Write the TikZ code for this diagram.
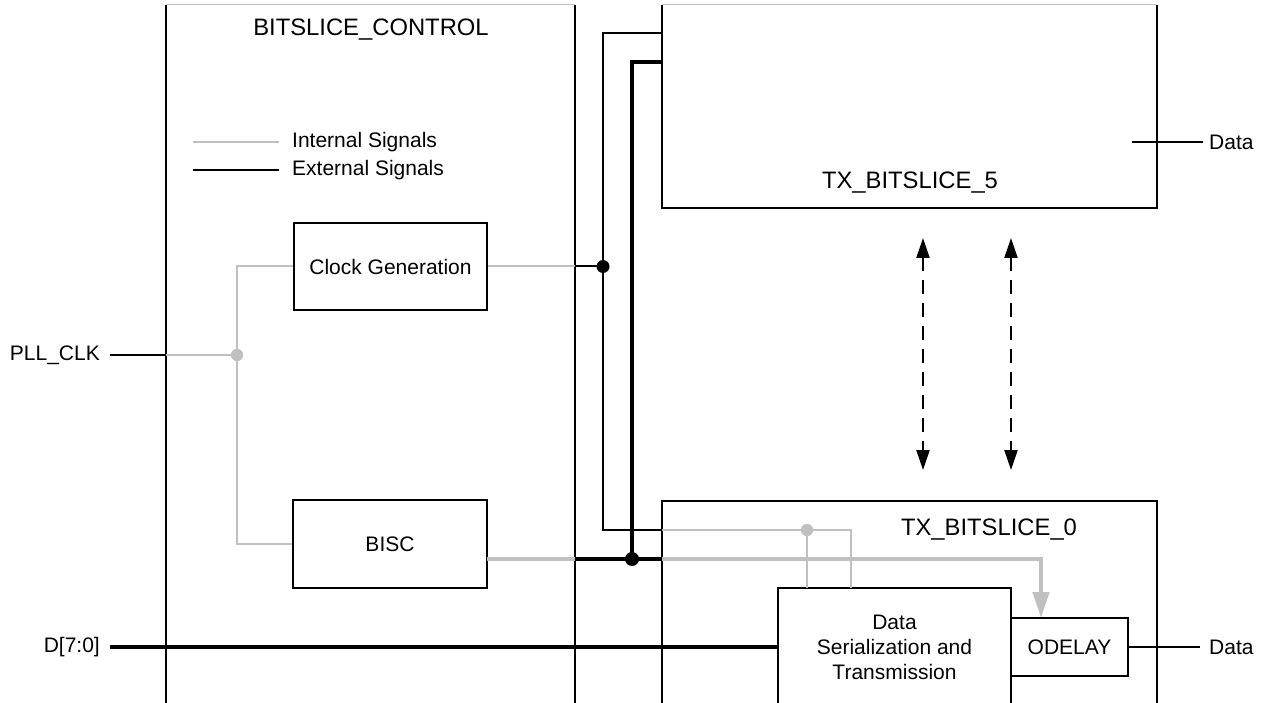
\documentclass[tikz,border=0pt]{standalone}
\usepackage{fontspec}
\setmainfont{Liberation Sans}
\usetikzlibrary{arrows.meta}
\definecolor{sgray}{RGB}{192,192,192}
\begin{document}
\begin{tikzpicture}[x=1pt,y=-1pt,
  lbl/.style={font=\fontsize{21}{25}\selectfont, inner sep=0pt},
  ttl/.style={font=\fontsize{23.8}{28}\selectfont, inner sep=0pt},
  box/.style={draw, line width=2.8pt, lbl, align=center},
  border/.style={draw=black, line width=2.8pt},
  topedge/.style={draw=sgray, line width=1pt},
  int/.style={draw=sgray, line width=2pt},
  intthick/.style={draw=sgray, line width=4.5pt},
  ext/.style={draw=black, line width=2pt},
  extthick/.style={draw=black, line width=4.5pt},
  dashline/.style={draw=black, line width=2.2pt, dash pattern=on 14pt off 9pt,
    {Triangle[length=20pt,width=13pt]}-{Triangle[length=20pt,width=13pt]}},
  gdot/.style={fill=sgray},
  bdot/.style={fill=black}]
\useasboundingbox (0,0) rectangle (1263,703);
\fill[white] (0,0) rectangle (1263,703);
\clip (0,0) rectangle (1263,703);

% big clipped boxes
\draw[topedge] (166,5) -- (575,5);
\draw[border] (166,5) -- (166,720);
\draw[border] (575,5) -- (575,720);
\node[ttl] (bctitle) at (371,30) {BITSLICE\_CONTROL};

\draw[topedge] (662,5) -- (1157,5);
\draw[border] (662,5) -- (662,208) -- (1157,208) -- (1157,5);
\node[ttl] (tx5title) at (910,183) {TX\_BITSLICE\_5};

\draw[border] (662,720) -- (662,501) -- (1157,501) -- (1157,720);
\node[ttl] (tx0title) at (989,530) {TX\_BITSLICE\_0};

% legend
\coordinate (lg1a) at (193,142); \coordinate (lg1b) at (279,142);
\coordinate (lg2a) at (193,170); \coordinate (lg2b) at (279,170);
\draw[int] (lg1a) -- (lg1b);
\draw[ext, line width=2.8pt] (lg2a) -- (lg2b);
\node[lbl, anchor=west] (intlbl) at (292,142) {Internal Signals};
\node[lbl, anchor=west] (extlbl) at (292,170) {External Signals};

% inner boxes
\node[box, minimum width=193pt, minimum height=87pt] (clk) at (390.5,266.5) {Clock Generation};
\node[box, minimum width=194pt, minimum height=88pt] (bisc) at (390,544) {BISC};
\draw[border] (778,720) -- (778,588) -- (1011,588) -- (1011,720);
\node[lbl, align=center] (ser) at (894.5,647) {Data\\Serialization and\\Transmission};
\node[box, minimum width=117pt, minimum height=58pt] (odelay) at (1069.5,647) {ODELAY};

% external labels
\node[lbl, anchor=east] (pll) at (100,355) {PLL\_CLK};
\node[lbl, anchor=east] (dbus) at (100,647) {D[7:0]};
\node[lbl, anchor=west] (data5) at (1209,142) {Data};
\node[lbl, anchor=west] (data0) at (1209,647) {Data};

% coordinates
\coordinate (pllx) at (166,355);
\coordinate (pllj) at (237,355);
\coordinate (c1) at (575,266.5);
\coordinate (j1) at (603,266.5);
\coordinate (t5a) at (662,33);
\coordinate (t5b) at (662,62);
\coordinate (b1) at (603,530);
\coordinate (t0a) at (662,530);
\coordinate (s1) at (807,588);
\coordinate (g1) at (807,530);
\coordinate (s2) at (851,588);
\coordinate (bo) at (487,559);
\coordinate (c2) at (575,559);
\coordinate (j2) at (632,559);
\coordinate (t0b) at (662,559);
\coordinate (oa) at (1041,618);
\coordinate (sw) at (778,647);
\coordinate (d5a) at (1132,142);
\coordinate (d5b) at (1203,142);
\coordinate (d0b) at (1200,647);
\coordinate (ar1a) at (923,238); \coordinate (ar1b) at (923,470);
\coordinate (ar2a) at (1011,238); \coordinate (ar2b) at (1011,470);

% PLL_CLK
\draw[ext] ([xshift=10pt]pll.east) -- (pllx);
\draw[int] (pllx) -- (pllj);
\draw[int] (clk.west) -| (pllj) |- (bisc.west);
\fill[gdot] (pllj) circle (6.2pt);

% clock generation output
\draw[int] (clk.east) -- (c1);
\draw[ext] (c1) -- (j1);

% thin control bus
\draw[ext] (t5a) -| (b1) -- (t0a);
\draw[int] (t0a) -| (s2);
\draw[int] (g1) -- (s1);
\fill[gdot] (g1) circle (6.2pt);
\fill[bdot] (j1) circle (6.5pt);

% thick bus
\draw[extthick] (t5b) -| (j2);
\draw[intthick] (bo) -- (c2);
\draw[extthick] (c2) -- (t0b);
\draw[intthick, -{Triangle[length=26pt,width=16pt]}] (t0b) -| (oa);
\fill[bdot] (j2) circle (7pt);

% data path
\draw[extthick] ([xshift=10pt]dbus.east) -- (sw);
\draw[ext] (odelay.east) -- (d0b);
\draw[ext] (d5a) -- (d5b);

% dashed arrows
\draw[dashline] (ar1a) -- (ar1b);
\draw[dashline] (ar2a) -- (ar2b);
\end{tikzpicture}
\end{document}
